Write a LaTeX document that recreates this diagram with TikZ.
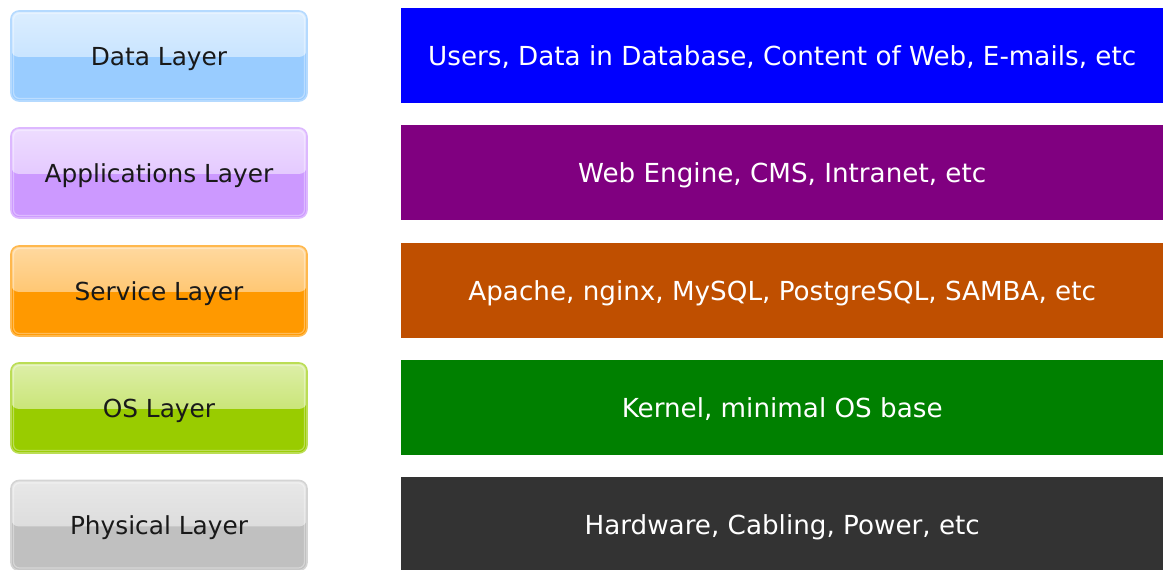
\documentclass[tikz,border=0pt]{standalone}
\usepackage{fontspec}
\setmainfont{DejaVu Sans}
\usetikzlibrary{calc}
\tikzset{
  layerbtn/.style args={#1/#2/#3}{rounded corners=8pt, minimum width=296pt, minimum height=90pt,
    fill=#1, draw=#3, line width=1.6pt, text=black!90, font=\fontsize{24.8}{28}\selectfont, inner sep=0pt,
    text height=18.1pt, text depth=0pt,
    path picture={\fill[top color=#2, bottom color=#2!45!#1] (path picture bounding box.north west) rectangle ($(path picture bounding box.east)+(0,-1pt)$);
      \draw[white, opacity=0.35, line width=1.2pt, rounded corners=6pt] ($(path picture bounding box.north west)+(2.5pt,-2.5pt)$) rectangle ($(path picture bounding box.south east)+(-2.5pt,2.5pt)$);}},
  layerbar/.style={fill=#1, draw=none, minimum width=762pt, minimum height=95pt, inner sep=0pt,
    text height=19.1pt, text depth=0pt,
    text=white, font=\fontsize{26.2}{30}\selectfont, anchor=north west}
}
\definecolor{dbase}{HTML}{99CCFF}\definecolor{dtop}{HTML}{DCEEFF}\definecolor{dbord}{HTML}{B5DAFF}
\definecolor{abase}{HTML}{CC99FF}\definecolor{atop}{HTML}{EEDDFF}\definecolor{abord}{HTML}{DDB8FF}
\definecolor{sbase}{HTML}{FF9900}\definecolor{stop}{HTML}{FFD9A0}\definecolor{sbord}{HTML}{FFB84D}
\definecolor{obase}{HTML}{99CC00}\definecolor{otop}{HTML}{DDEFA8}\definecolor{obord}{HTML}{BBDD55}
\definecolor{pbase}{HTML}{C0C0C0}\definecolor{ptop}{HTML}{E8E8E8}\definecolor{pbord}{HTML}{D4D4D4}
\definecolor{bar1}{HTML}{0000FF}\definecolor{bar2}{HTML}{800080}\definecolor{bar3}{HTML}{BF4F00}
\definecolor{bar4}{HTML}{008000}\definecolor{bar5}{HTML}{333333}
\begin{document}
\begin{tikzpicture}[x=1pt,y=1pt]
\useasboundingbox (0,0) rectangle (1163,570);
% left buttons
\node[layerbtn=dbase/dtop/dbord] (b1) at (159,570-56) {Data Layer};
\node[layerbtn=abase/atop/abord] (b2) at (159,570-173) {Applications Layer};
\node[layerbtn=sbase/stop/sbord] (b3) at (159,570-291) {Service Layer};
\node[layerbtn=obase/otop/obord] (b4) at (159,570-408) {OS Layer};
\node[layerbtn=pbase/ptop/pbord] (b5) at (159,570-525.5) {Physical Layer};
% right bars
\node[layerbar=bar1] (r1) at (401,570-8) {Users, Data in Database, Content of Web, E-mails, etc};
\node[layerbar=bar2] (r2) at (401,570-125) {Web Engine, CMS, Intranet, etc};
\node[layerbar=bar3] (r3) at (401,570-243) {Apache, nginx, MySQL, PostgreSQL, SAMBA, etc};
\node[layerbar=bar4] (r4) at (401,570-360) {Kernel, minimal OS base};
\node[layerbar=bar5] (r5) at (401,570-477) {Hardware, Cabling, Power, etc};
\end{tikzpicture}
\end{document}
